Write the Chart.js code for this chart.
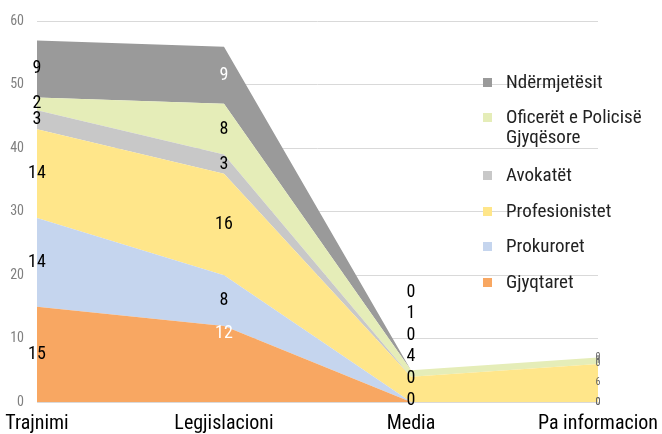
<!DOCTYPE html>
<html lang="sq">
<head>
<meta charset="UTF-8">
<title>Trajnimi</title>
<style>
    body { margin: 0; background: #fff; }
    .wrap { position: relative; width: 662px; height: 434px; }
    #chart { position: absolute; left: 0; top: 0; }
    .legend { position: absolute; left: 483px; top: 0; font-family: "Liberation Sans Narrow", "Roboto Condensed", Roboto, sans-serif; font-size: 19px; color: #222; }
    .item { position: absolute; left: 0; white-space: nowrap; line-height: 20px; }
    .item i { position: absolute; left: 0; top: 6px; width: 9px; height: 9px; }
    .item span { position: absolute; left: 23px; top: 0; }
</style>
</head>
<body>
<div class="wrap">
    <canvas id="chart" width="662" height="434"></canvas>
    <div class="legend" id="legend"></div>
</div>
<script src="https://cdn.jsdelivr.net/npm/chart.js"></script>
<script>
    const categories = ['Trajnimi', 'Legjislacioni', 'Media', 'Pa informacion'];
    const seriesNames = ['Gjyqtaret', 'Prokuroret', 'Profesionistet', 'Avokatët', 'Oficerët e Policisë Gjyqësore', 'Ndërmjetësit'];
    const gjyqtaret = [15, 12, 0, 0];
    const prokuroret = [14, 8, 0, 0];
    const profesionistet = [14, 16, 4, 6];
    const avokatet = [3, 3, 0, 0];
    const oficeret = [2, 8, 1, 1];
    const ndermjetesit = [9, 9, 0, 0];
    const yTicks = [0, 10, 20, 30, 40, 50, 60];

    const colors = ['#f8a762', '#c5d5ee', '#ffe68a', '#c8c8c8', '#e5edb8', '#9a9a9a'];
    const allValues = [gjyqtaret, prokuroret, profesionistet, avokatet, oficeret, ndermjetesit];
    const font = '"Liberation Sans Narrow", "Roboto Condensed", Roboto, sans-serif';

    // which labels are white in the picture: [dataset, point]
    const whiteLabels = [[0, 1], [5, 1]];

    const labelPlugin = {
        id: 'bandLabels',
        afterDatasetsDraw(chart) {
            const ctx = chart.ctx;
            const y = chart.scales.y;
            const x = chart.scales.x;
            ctx.save();
            ctx.textAlign = 'center';
            ctx.textBaseline = 'middle';
            categories.forEach((c, i) => {
                let cum = 0;
                allValues.forEach((vals, d) => {
                    const v = vals[i];
                    const px = x.getPixelForValue(i);
                    let py = y.getPixelForValue(cum + v / 2);
                    if (i === 2) {
                        // Media: labels pushed apart, stacked upward from the baseline
                        py = y.getPixelForValue(0) - 2 - d * 21.6;
                    }
                    if (d === 0 && i === 1) py -= 30; // label sits high in the band
                    if (i === 3) {
                        ctx.font = '10px ' + font;
                        ctx.fillStyle = '#666';
                    } else {
                        ctx.font = '18px ' + font;
                        const white = whiteLabels.some(w => w[0] === d && w[1] === i);
                        ctx.fillStyle = white ? '#ffffff' : '#000000';
                    }
                    ctx.fillText(String(v), px, py);
                    cum += v;
                });
            });
            ctx.restore();
        }
    };

    const datasets = seriesNames.map((name, d) => ({
        label: name,
        data: allValues[d],
        backgroundColor: colors[d],
        borderWidth: 0,
        pointRadius: 0,
        tension: 0,
        fill: d === 0 ? 'origin' : '-1'
    }));

    new Chart(document.getElementById('chart'), {
        type: 'line',
        data: { labels: categories, datasets: datasets },
        options: {
            responsive: false,
            animation: false,
            layout: { padding: { top: 14, right: 64, left: 0, bottom: 0 } },
            plugins: { legend: { display: false }, tooltip: { enabled: false } },
            scales: {
                x: {
                    offset: false,
                    afterFit: axis => { axis.height = 32; axis.paddingLeft = 0; axis.paddingRight = 0; },
                    grid: { display: false, drawTicks: false },
                    border: { color: '#d9d9d9' },
                    ticks: { color: '#000', font: { family: font, size: 20 }, padding: 10, maxRotation: 0, autoSkip: false }
                },
                y: {
                    stacked: true,
                    min: 0,
                    max: 60,
                    afterBuildTicks: axis => { axis.ticks = yTicks.map(v => ({ value: v })); },
                    afterFit: axis => { axis.width = 37; },
                    grid: { color: '#d9d9d9', drawTicks: false },
                    border: { display: false },
                    ticks: { color: '#808080', font: { family: font, size: 14 }, padding: 13 }
                }
            }
        },
        plugins: [labelPlugin]
    });

    // legend, top item is the last series
    const legendRows = [
        { d: 5, top: 72, text: 'Ndërmjetësit' },
        { d: 4, top: 107, text: 'Oficerët e Policisë<br>Gjyqësore' },
        { d: 3, top: 165, text: 'Avokatët' },
        { d: 2, top: 201, text: 'Profesionistet' },
        { d: 1, top: 236, text: 'Prokuroret' },
        { d: 0, top: 272, text: 'Gjyqtaret' }
    ];
    const legend = document.getElementById('legend');
    legendRows.forEach(r => {
        const el = document.createElement('div');
        el.className = 'item';
        el.style.top = r.top + 'px';
        el.innerHTML = `<i style="background:${colors[r.d]}"></i><span>${r.text}</span>`;
        legend.appendChild(el);
    });
</script>
</body>
</html>
